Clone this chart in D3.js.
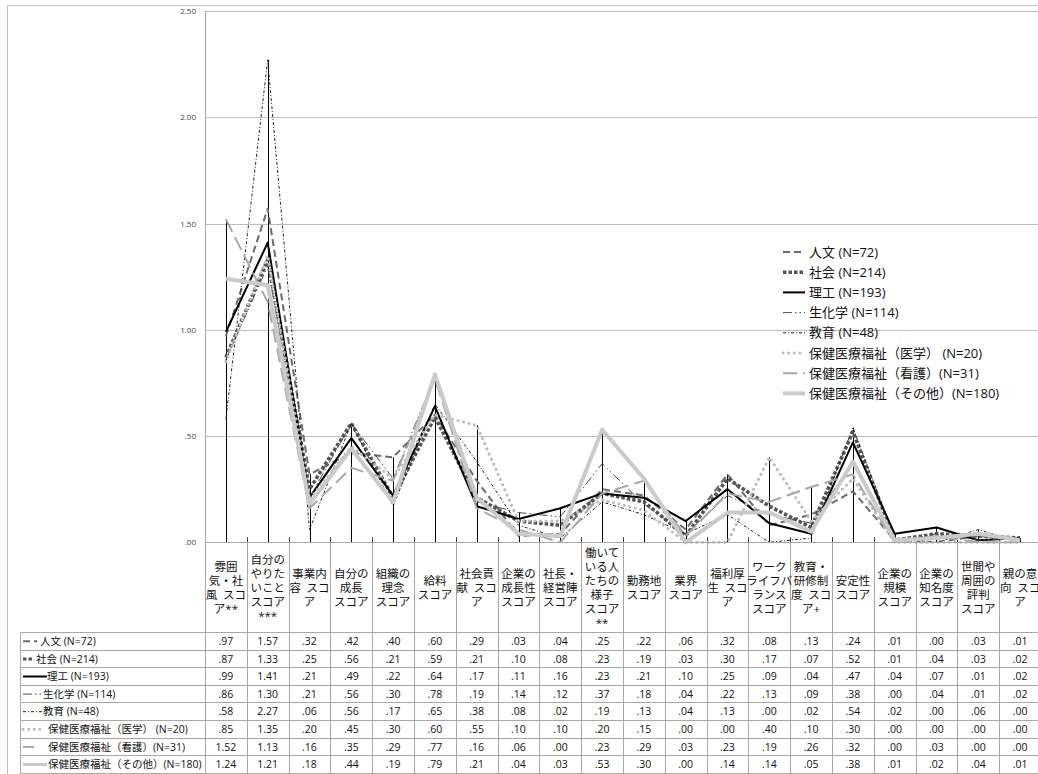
<!DOCTYPE html>
<html>
<head>
<meta charset="utf-8">
<script src="https://cdn.jsdelivr.net/npm/d3@7"></script>
<style>
  body { margin: 0; background: #fff; }
  svg { display: block; }
  text { font-family: "Open Sans", "Noto Sans CJK JP", sans-serif; }
</style>
</head>
<body>
<svg id="chart" width="1038" height="774"></svg>
<script>
// Categories (header cell text, line breaks as wrapped in the table)
const categories = [
  "雰囲\n気・社\n風\u2002スコ\nア**",
  "自分の\nやりた\nいこと\nスコア\n***",
  "事業内\n容\u2002スコ\nア",
  "自分の\n成長\nスコア",
  "組織の\n理念\nスコア",
  "給料\nスコア",
  "社会貢\n献\u2002スコ\nア",
  "企業の\n成長性\nスコア",
  "社長・\n経営陣\nスコア",
  "働いて\nいる人\nたちの\n様子\nスコア\n**",
  "勤務地\nスコア",
  "業界\nスコア",
  "福利厚\n生\u2002スコ\nア",
  "ワーク\nライフバ\nランス\nスコア",
  "教育・\n研修制\n度\u2002スコ\nア+",
  "安定性\nスコア",
  "企業の\n規模\nスコア",
  "企業の\n知名度\nスコア",
  "世間や\n周囲の\n評判\nスコア",
  "親の意\n向\u2002スコ\nア"
];

const seriesNames = [
  "人文 (N=72)",
  "社会 (N=214)",
  "理工 (N=193)",
  "生化学 (N=114)",
  "教育 (N=48)",
  "保健医療福祉（医学） (N=20)",
  "保健医療福祉（看護）(N=31)",
  "保健医療福祉（その他）(N=180)"
];

const jinbun   = [0.97, 1.57, 0.32, 0.42, 0.40, 0.60, 0.29, 0.03, 0.04, 0.25, 0.22, 0.06, 0.32, 0.08, 0.13, 0.24, 0.01, 0.00, 0.03, 0.01];
const shakai   = [0.87, 1.33, 0.25, 0.56, 0.21, 0.59, 0.21, 0.10, 0.08, 0.23, 0.19, 0.03, 0.30, 0.17, 0.07, 0.52, 0.01, 0.04, 0.03, 0.02];
const riko     = [0.99, 1.41, 0.21, 0.49, 0.22, 0.64, 0.17, 0.11, 0.16, 0.23, 0.21, 0.10, 0.25, 0.09, 0.04, 0.47, 0.04, 0.07, 0.01, 0.02];
const seikagaku= [0.86, 1.30, 0.21, 0.56, 0.30, 0.78, 0.19, 0.14, 0.12, 0.37, 0.18, 0.04, 0.22, 0.13, 0.09, 0.38, 0.00, 0.04, 0.01, 0.02];
const kyoiku   = [0.58, 2.27, 0.06, 0.56, 0.17, 0.65, 0.38, 0.08, 0.02, 0.19, 0.13, 0.04, 0.13, 0.00, 0.02, 0.54, 0.02, 0.00, 0.06, 0.00];
const igaku    = [0.85, 1.35, 0.20, 0.45, 0.30, 0.60, 0.55, 0.10, 0.10, 0.20, 0.15, 0.00, 0.00, 0.40, 0.10, 0.30, 0.00, 0.00, 0.00, 0.00];
const kango    = [1.52, 1.13, 0.16, 0.35, 0.29, 0.77, 0.16, 0.06, 0.00, 0.23, 0.29, 0.03, 0.23, 0.19, 0.26, 0.32, 0.00, 0.03, 0.00, 0.00];
const sonota   = [1.24, 1.21, 0.18, 0.44, 0.19, 0.79, 0.21, 0.04, 0.03, 0.53, 0.30, 0.00, 0.14, 0.14, 0.05, 0.38, 0.01, 0.02, 0.04, 0.01];

const seriesValues = [jinbun, shakai, riko, seikagaku, kyoiku, igaku, kango, sonota];

const yTicks = [0, 0.5, 1.0, 1.5, 2.0, 2.5];

// Line styles per series (monochrome print style)
const styles = [
  { color: "#6b6b6b", width: 2,   dash: "7,4",             cap: "butt",  tKey: 14, tText: 40 },
  { color: "#555555", width: 3.6, dash: "3.5,2",           cap: "butt",  tKey: 11, tText: 36 },
  { color: "#000000", width: 2,   dash: null,              cap: "butt",  tKey: 24, tText: 47 },
  { color: "#4a4a4a", width: 1,   dash: "9,3,1.5,3,1.5,3", cap: "butt",  tKey: 19, tText: 43 },
  { color: "#222222", width: 1,   dash: "3,2,1,2",         cap: "butt",  tKey: 19, tText: 43 },
  { color: "#bdbdbd", width: 3,   dash: "0.1,5.5",         cap: "round", tKey: 17, tText: 48 },
  { color: "#a8a8a8", width: 2,   dash: "14,6",            cap: "butt",  tKey: 11, tText: 48 },
  { color: "#cacaca", width: 4,   dash: null,              cap: "butt",  tKey: 24, tText: 48 }
];

const svg = d3.select("#chart");
const W = 1038, H = 774;

const plot = { left: 205, right: 1041, top: 11, bottom: 542.3 };
const x = d3.scaleBand().domain(d3.range(categories.length)).range([plot.left, plot.right]).padding(0);
const y = d3.scaleLinear().domain([0, 2.5]).range([plot.bottom, plot.top]);
const cx = i => x(i) + x.bandwidth() / 2;
const fmt = v => d3.format(".2f")(v).replace(/^0\./, ".");

// Outer chart border
svg.append("path")
  .attr("d", `M7.5,${H} V5.5 H${W}`)
  .attr("fill", "none").attr("stroke", "#bdbdbd").attr("stroke-width", 1);

// Horizontal gridlines
svg.append("g").selectAll("line")
  .data(yTicks.filter(t => t > 0))
  .join("line")
  .attr("x1", plot.left).attr("x2", W)
  .attr("y1", d => Math.round(y(d)) + 0.5).attr("y2", d => Math.round(y(d)) + 0.5)
  .attr("stroke", "#bcbcbc").attr("stroke-width", 1.2);

// Y axis labels
const yAxis = d3.axisLeft(y).tickValues(yTicks).tickSize(0).tickPadding(9).tickFormat(fmt);
const gy = svg.append("g").attr("transform", `translate(${plot.left},0)`).call(yAxis);
gy.select(".domain").remove();
gy.selectAll("text").attr("font-size", 8).attr("fill", "#444")
  .style("font-family", "\"Open Sans\", sans-serif");

// Left axis line (from plot top through the whole data table)
svg.append("line")
  .attr("x1", plot.left + 0.5).attr("x2", plot.left + 0.5)
  .attr("y1", plot.top).attr("y2", H)
  .attr("stroke", "#a8a8a8").attr("stroke-width", 1);

// Category tick marks above the axis
svg.append("g").selectAll("line")
  .data(d3.range(1, categories.length))
  .join("line")
  .attr("x1", i => Math.round(x(i)) + 0.5).attr("x2", i => Math.round(x(i)) + 0.5)
  .attr("y1", plot.bottom - 5).attr("y2", plot.bottom)
  .attr("stroke", "#333").attr("stroke-width", 1);

// Drop lines: from highest value at each category down to zero
svg.append("g").selectAll("line")
  .data(d3.range(categories.length))
  .join("line")
  .attr("x1", i => Math.round(cx(i)) + 0.5).attr("x2", i => Math.round(cx(i)) + 0.5)
  .attr("y1", i => y(d3.max(seriesValues, s => s[i])))
  .attr("y2", y(0))
  .attr("stroke", "#000").attr("stroke-width", 1);

// Series lines
const line = d3.line().x((d, i) => cx(i)).y(d => y(d));
svg.append("g").selectAll("path")
  .data(seriesValues)
  .join("path")
  .attr("d", d => line(d))
  .attr("fill", "none")
  .attr("stroke", (d, i) => styles[i].color)
  .attr("stroke-width", (d, i) => styles[i].width)
  .attr("stroke-dasharray", (d, i) => styles[i].dash)
  .attr("stroke-linecap", (d, i) => styles[i].cap)
  .attr("stroke-linejoin", "round");

// Zero axis line / table header top
svg.append("line")
  .attr("x1", plot.left).attr("x2", W)
  .attr("y1", Math.round(plot.bottom) + 0.5).attr("y2", Math.round(plot.bottom) + 0.5)
  .attr("stroke", "#a8a8a8");

// Legend inside the plot
const legend = svg.append("g").attr("transform", "translate(783,252)");
seriesNames.forEach((name, i) => {
  const g = legend.append("g").attr("transform", `translate(0,${i * 20.2})`);
  const st = styles[i];
  g.append("line").attr("x1", 0).attr("x2", 22).attr("y1", 0).attr("y2", 0)
    .attr("stroke", st.color).attr("stroke-width", st.width)
    .attr("stroke-dasharray", st.dash).attr("stroke-linecap", st.cap);
  g.append("text").attr("x", 26).attr("y", 0).attr("dy", "0.35em")
    .attr("font-size", 13).attr("fill", "#111").text(name);
});

// ---------- Data table ----------
const headTop = Math.round(plot.bottom) + 0.5;
const rowTop = 632, rowH = 17.6;
const tableLeft = 20;
const grid = "#a8a8a8";
const table = svg.append("g");

// Column boundaries
d3.range(1, categories.length + 1).forEach(i => {
  const xx = Math.round(i < categories.length ? x(i) : plot.right) + 0.5;
  table.append("line").attr("x1", xx).attr("x2", xx).attr("y1", headTop).attr("y2", H)
    .attr("stroke", grid);
});
table.append("line").attr("x1", tableLeft + 0.5).attr("x2", tableLeft + 0.5)
  .attr("y1", rowTop).attr("y2", H).attr("stroke", grid);

// Row boundaries
d3.range(seriesNames.length + 1).forEach(r => {
  const yy = Math.round(rowTop + r * rowH) + 0.5;
  table.append("line").attr("x1", tableLeft).attr("x2", W).attr("y1", yy).attr("y2", yy)
    .attr("stroke", grid);
});

// Category header text
const headMid = (headTop + rowTop) / 2 + 1;
categories.forEach((c, i) => {
  const lines = c.split("\n");
  const t = table.append("text").attr("text-anchor", "middle")
    .attr("font-size", 11.5).attr("fill", "#111");
  lines.forEach((ln, k) => {
    t.append("tspan").attr("x", cx(i))
      .attr("y", headMid + (k - (lines.length - 1) / 2) * 14)
      .attr("dy", "0.35em").text(ln);
  });
});

// Row labels with line keys, and values
seriesNames.forEach((name, r) => {
  const my = rowTop + r * rowH + rowH / 2 + 0.5;
  const st = styles[r];
  table.append("line").attr("x1", 23).attr("x2", 23 + st.tKey).attr("y1", my).attr("y2", my)
    .attr("stroke", st.color).attr("stroke-width", Math.min(st.width, 3))
    .attr("stroke-dasharray", st.dash).attr("stroke-linecap", st.cap);
  table.append("text").attr("x", st.tText).attr("y", my).attr("dy", "0.35em")
    .attr("font-size", 10.5).attr("fill", "#111").text(name);
  seriesValues[r].forEach((v, i) => {
    table.append("text").attr("x", cx(i)).attr("y", my).attr("dy", "0.35em")
      .attr("text-anchor", "middle").attr("font-size", 10.5).attr("fill", "#111")
      .text(fmt(v));
  });
});
</script>
</body>
</html>
